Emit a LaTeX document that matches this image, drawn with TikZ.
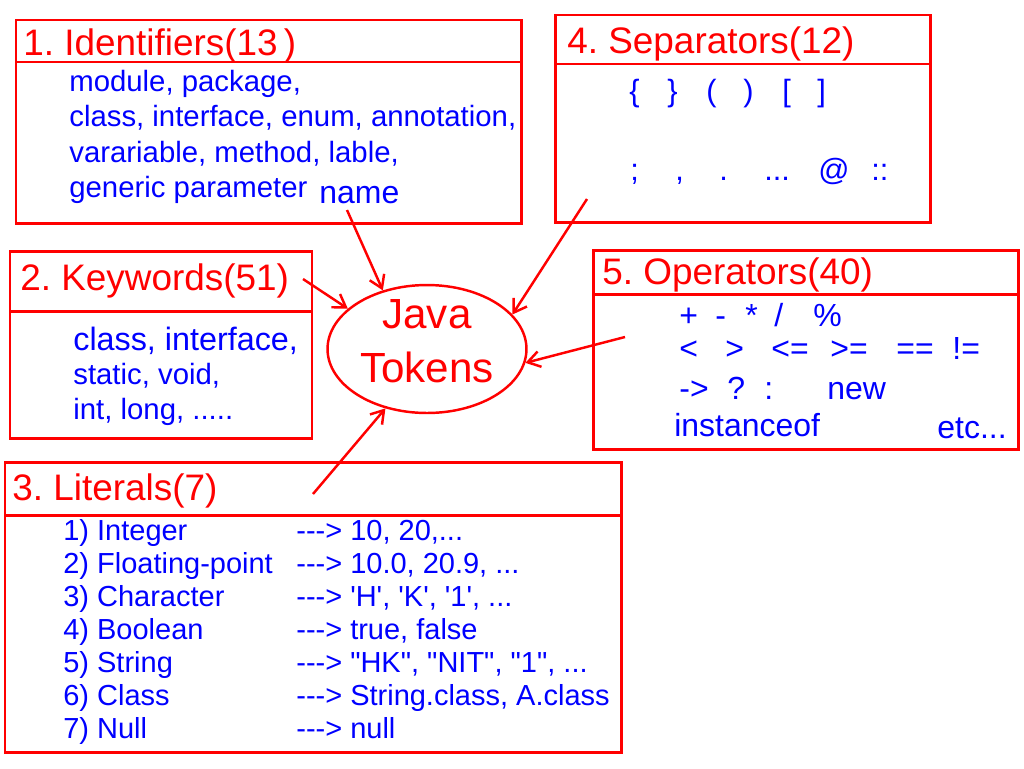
\documentclass[tikz,border=0pt]{standalone}
\usepackage{fontspec}
\setmainfont{Liberation Sans}[Ligatures=TeXOff]
\usetikzlibrary{shapes.geometric,arrows.meta}
\frenchspacing

\tikzset{
  box/.style={draw=red, line width=1.7pt},
  title/.style={text=red, font=\fontsize{21pt}{25pt}\selectfont, anchor=base west, inner sep=0pt},
  item/.style={text=blue, font=\fontsize{16.7pt}{20pt}\selectfont, anchor=base west, inner sep=0pt},
  lit/.style={item, font=\fontsize{16.5pt}{19pt}\selectfont},
  sym/.style={item, font=\fontsize{17.5pt}{21pt}\selectfont},
  big/.style={item, font=\fontsize{18.2pt}{22pt}\selectfont},
  link/.style={red, line width=1.4pt, -{Straight Barb[length=7pt,width=9pt]}},
}

\begin{document}
\begin{tikzpicture}[x=0.02cm, y=-0.02cm]
  \useasboundingbox (0,0) rectangle (1024,768);

  % the five boxes
  \draw[box] (16,20) rectangle (521,223) (16,62) -- (521,62);
  \draw[box] (10,251) rectangle (312,438) (10,311) -- (312,311);
  \draw[box] (5,462) rectangle (621,752) (5,515) -- (621,515);
  \draw[box] (555,15) rectangle (930,222) (555,64) -- (930,64);
  \draw[box] (593,250) rectangle (1018,449) (593,294) -- (1018,294);

  % 1. identifiers
  \node[title] (idt) at (23,55) {1. Identifiers(13\,)};
  \foreach \t [count=\i] in {{module, package,}, {class, interface, enum, annotation,},
      {varariable, method, lable,}, {generic parameter}}
    \node[item] (id\i) at (69,{91+35.5*(\i-1)}) {\t};
  \node[big] (idname) at (319,203) {name};

  % 2. keywords
  \node[title] (kwt) at (20,290) {2. Keywords(51)};
  \node[item, font=\fontsize{18.4pt}{22pt}\selectfont] (kw1) at (73,350) {class, interface,};
  \node[item] (kw2) at (73,384) {static, void,};
  \node[item] (kw3) at (73,419) {int, long, .....};

  % 3. literals
  \node[title] (litt) at (12,500) {3. Literals(7)};
  \foreach \l/\r [count=\i] in {{1) Integer}/{---> 10, 20,...},
      {2) Floating-point}/{---> 10.0, 20.9, ...},
      {3) Character}/{---> 'H', 'K', '1', ...},
      {4) Boolean}/{---> true, false},
      {5) String}/{---> "HK", "NIT", "1", ...},
      {6) Class}/{---> String.class, A.class},
      {7) Null}/{---> null}} {
    \node[lit] (lita\i) at (63,{540+33*(\i-1)}) {\l};
    \node[lit] (litb\i) at (296,{540+33*(\i-1)}) {\r};
  }

  % 4. separators
  \node[title] (sept) at (567,53) {4. Separators(12)};
  \foreach \s/\x [count=\i] in {{\{}/629, {\}}/667, {(}/706, {)}/743, {[}/782, {]}/817}
    \node[sym] (sepa\i) at (\x,101) {\s};
  \foreach \s/\x [count=\i] in {{;}/630, {,}/675, {.}/719, {...}/764, {@}/818, {::}/871}
    \node[sym] (sepb\i) at (\x,180) {\s};

  % 5. operators
  \node[title] (opt) at (602,284) {5. Operators(40)};
  \foreach \s/\x [count=\i] in {{+}/679, {-}/715, {*}/745, {/}/774, {\%}/813}
    \node[big] (opa\i) at (\x,326) {\s};
  \foreach \s/\x [count=\i] in {{<}/679, {>}/725, {<=}/771, {>=}/830, {==}/896, {!=}/952}
    \node[big] (opb\i) at (\x,359) {\s};
  \foreach \s/\x [count=\i] in {{->}/679, {?}/727, {:}/764, {new}/827}
    \node[big] (opc\i) at (\x,399) {\s};
  \node[big] (opd1) at (674,436) {instanceof};
  \node[big] (opd2) at (937,438) {etc...};

  % centre
  \node[ellipse, draw=red, line width=1.4pt, inner sep=0pt,
        minimum width=3.98cm, minimum height=2.56cm] (tok) at (427,349) {};
  \node[title, anchor=base, font=\fontsize{24pt}{30pt}\selectfont] (tokA) at (427,328) {Java};
  \node[title, anchor=base, font=\fontsize{24pt}{30pt}\selectfont] (tokB) at (427,382) {Tokens};

  \coordinate (fromId) at (347,210);
  \coordinate (fromKw) at (303,279);
  \coordinate (fromLit) at (313,494);
  \coordinate (fromSep) at (587,199);
  \coordinate (fromOp) at (625,337);
  \draw[link] (fromId) -- (tok.127);
  \draw[link] (fromKw) -- (tok.153);
  \draw[link] (fromLit) -- (tok.235);
  \draw[link] (fromSep) -- (tok.22);
  \draw[link] (fromOp) -- (tok.352);
\end{tikzpicture}
\end{document}
